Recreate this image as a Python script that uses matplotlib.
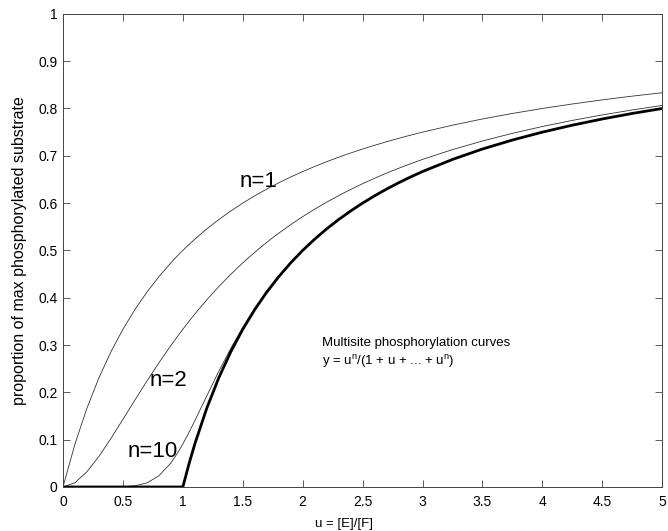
import matplotlib
matplotlib.use('Agg')
import matplotlib.pyplot as plt
from matplotlib.ticker import FormatStrFormatter, MultipleLocator

plt.rcParams['font.family'] = ['Liberation Sans', 'DejaVu Sans']
plt.rcParams['mathtext.fontset'] = 'custom'
plt.rcParams['mathtext.rm'] = 'Liberation Sans'
plt.rcParams['mathtext.it'] = 'Liberation Sans'

######################################################################
# values

u = [0.0, 0.1, 0.2, 0.3, 0.4, 0.5, 0.6, 0.7, 0.8, 0.9, 0.95,
     1.0, 1.05, 1.1, 1.2, 1.3, 1.4, 1.5, 1.6, 1.7, 1.8, 1.9, 2.0,
     2.1, 2.2, 2.3, 2.4, 2.5, 2.6, 2.7, 2.8, 2.9, 3.0,
     3.25, 3.5, 3.75, 4.0, 4.25, 4.5, 4.75, 5.0]

y_n1 = [0.0, 0.0909, 0.1667, 0.2308, 0.2857, 0.3333, 0.375, 0.4118,
        0.4444, 0.4737, 0.4872, 0.5, 0.5122, 0.5238, 0.5455, 0.5652,
        0.5833, 0.6, 0.6154, 0.6296, 0.6429, 0.6552, 0.6667,
        0.6774, 0.6875, 0.697, 0.7059, 0.7143, 0.7222, 0.7297, 0.7368,
        0.7436, 0.75, 0.7647, 0.7778, 0.7895, 0.8, 0.8095,
        0.8182, 0.8261, 0.8333]

y_n2 = [0.0, 0.009, 0.0323, 0.0647, 0.1026, 0.1429, 0.1837, 0.2237,
        0.2623, 0.2989, 0.3164, 0.3333, 0.3497, 0.3656, 0.3956, 0.4236,
        0.4495, 0.4737, 0.4961, 0.517, 0.5364, 0.5545, 0.5714,
        0.5872, 0.602, 0.6158, 0.6288, 0.641, 0.6525, 0.6633, 0.6735,
        0.6832, 0.6923, 0.7131, 0.7313, 0.7475, 0.7619, 0.7748,
        0.7864, 0.7969, 0.8065]

y_n10 = [0.0, 0.0, 0.0, 0.0, 0.0001, 0.0005, 0.0024, 0.0086, 0.0235,
         0.0508, 0.0694, 0.0909, 0.1147, 0.14, 0.1926, 0.2444, 0.293,
         0.3372, 0.3771, 0.413, 0.4451, 0.4741, 0.5002,
         0.524, 0.5455, 0.5652, 0.5833, 0.6, 0.6154, 0.6296, 0.6429,
         0.6552, 0.6667, 0.6923, 0.7143, 0.7333, 0.75, 0.7647,
         0.7778, 0.7895, 0.8]

y_lim = [0.0, 0.0, 0.0, 0.0, 0.0, 0.0, 0.0, 0.0, 0.0, 0.0, 0.0,
         0.0, 0.0476, 0.0909, 0.1667, 0.2308, 0.2857, 0.3333, 0.375,
         0.4118, 0.4444, 0.4737, 0.5,
         0.5238, 0.5455, 0.5652, 0.5833, 0.6, 0.6154, 0.6296, 0.6429,
         0.6552, 0.6667, 0.6923, 0.7143, 0.7333, 0.75, 0.7647,
         0.7778, 0.7895, 0.8]

curve_labels = ['n=1', 'n=2', 'n=10']

######################################################################

fig = plt.figure(figsize=(6.68, 5.31), dpi=100)
ax = fig.add_axes([0.0943, 0.0829, 0.897, 0.891])

thin = dict(color='#333333', lw=0.6)
ax.plot(u, y_n1, **thin)
ax.plot(u, y_n2, **thin)
ax.plot(u, y_n10, **thin)
ax.plot(u, y_lim, color='k', lw=2.0, solid_capstyle='butt',
        solid_joinstyle='round')

ax.text(1.63, 0.645, curve_labels[0], fontsize=16, ha='center', va='center')
ax.text(0.88, 0.226, curve_labels[1], fontsize=16, ha='center', va='center')
ax.text(0.75, 0.074, curve_labels[2], fontsize=16, ha='center', va='center')

ax.text(2.16, 0.304, 'Multisite phosphorylation curves', fontsize=9.5,
        ha='left', va='center')
ax.text(2.16, 0.266, r'y = u$^{\rm n}$/(1 + u + ... + u$^{\rm n}$)',
        fontsize=9.5, ha='left', va='center')

ax.set_xlim(0, 5)
ax.set_ylim(0, 1)
ax.xaxis.set_major_locator(MultipleLocator(0.5))
ax.yaxis.set_major_locator(MultipleLocator(0.1))
ax.xaxis.set_major_formatter(FormatStrFormatter('%g'))
ax.yaxis.set_major_formatter(FormatStrFormatter('%g'))
ax.tick_params(direction='in', top=True, right=True, length=5,
               width=0.6, labelsize=10, color='#444444')
ax.tick_params(axis='x', pad=6)
ax.tick_params(axis='y', pad=4)
for s in ax.spines.values():
    s.set_linewidth(0.7)
    s.set_color('#444444')

ax.set_xlabel('u = [E]/[F]', fontsize=9.5)
ax.xaxis.set_label_coords(0.469, -0.066)
ax.set_ylabel('proportion of max phosphorylated substrate', fontsize=11.5,
              labelpad=8)

plt.savefig('out.png', dpi=100)
